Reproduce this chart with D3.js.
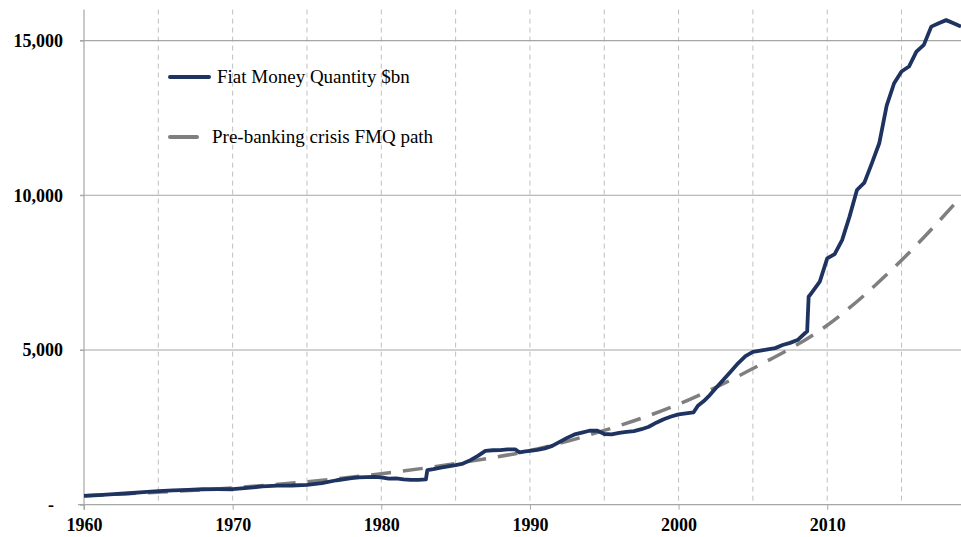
<!DOCTYPE html>
<html>
<head>
<meta charset="utf-8">
<script src="https://cdn.jsdelivr.net/npm/d3@7"></script>
<style>
  body { margin: 0; background: #fff; }
  svg { display: block; }
</style>
</head>
<body>
<svg id="svgImage" width="961" height="537"></svg>
<script>
// Fiat money quantity, $bn
var fmqYears = [1960, 1961, 1962, 1963, 1964, 1965, 1966, 1967, 1968, 1969,
  1970, 1971, 1972, 1973, 1974, 1975, 1976, 1977, 1978, 1978.5, 1979, 1979.5,
  1980, 1980.5, 1981, 1981.5, 1982, 1982.5, 1983, 1983.1, 1983.5, 1984, 1985,
  1985.5, 1986, 1986.5, 1987, 1987.5, 1988, 1988.5, 1989, 1989.3, 1989.7, 1990,
  1990.5, 1991, 1991.5, 1992, 1992.5, 1993, 1993.5, 1994, 1994.5, 1994.8, 1995,
  1995.5, 1996, 1996.5, 1997, 1997.5, 1998, 1998.5, 1999, 1999.5, 2000, 2000.5,
  2001, 2001.3, 2001.7, 2002, 2002.5, 2003, 2003.5, 2004, 2004.5, 2005, 2005.5,
  2006, 2006.5, 2007, 2007.5, 2008, 2008.5, 2008.65, 2008.75, 2009, 2009.5,
  2010, 2010.5, 2011, 2011.5, 2012, 2012.5, 2013, 2013.5, 2014, 2014.5, 2015,
  2015.5, 2016, 2016.5, 2017, 2017.5, 2018, 2018.5, 2019];
var fmqValues = [285, 310, 340, 370, 405, 440, 460, 480, 500, 505,
  500, 545, 590, 615, 620, 640, 700, 790, 860, 880, 890, 900,
  880, 840, 850, 820, 800, 805, 820, 1120, 1150, 1200, 1280,
  1330, 1440, 1580, 1740, 1760, 1765, 1790, 1790, 1690, 1720, 1740,
  1770, 1820, 1900, 2030, 2160, 2270, 2330, 2390, 2395, 2330, 2285,
  2275, 2320, 2350, 2380, 2440, 2520, 2650, 2760, 2850, 2920, 2950,
  2980, 3200, 3350, 3490, 3760, 4030, 4300, 4570, 4800, 4940, 4980,
  5020, 5060, 5160, 5230, 5320, 5540, 5600, 6720, 6880, 7210,
  7960, 8100, 8550, 9310, 10170, 10410, 11030, 11680, 12900, 13620, 14000,
  14160, 14640, 14860, 15450, 15560, 15660, 15560, 15450];

// Pre-banking crisis FMQ path
var pathYears = [1960, 1965, 1970, 1975, 1980, 1985, 1990, 1995, 2000, 2005, 2010, 2015, 2019];
var pathValues = [290, 405, 545, 740, 1000, 1330, 1750, 2400, 3250, 4400, 5800, 7900, 9950];

var seriesNames = ["Fiat Money Quantity $bn", "Pre-banking crisis FMQ path"];
var yTicks = [0, 5000, 10000, 15000];
var xTicks = [1960, 1970, 1980, 1990, 2000, 2010];
var xGrid = [1965, 1970, 1975, 1980, 1985, 1990, 1995, 2000, 2005, 2010, 2015];

var svg = d3.select("#svgImage"),
    plotLeft = 84, plotRight = 961, plotTop = 9.6, plotBottom = 504.7;

var x = d3.scaleLinear().domain([1960, 2019]).range([plotLeft, plotRight]),
    y = d3.scaleLinear().domain([0, 16000]).range([plotBottom, plotTop]);

// vertical dashed grid
svg.append("g").selectAll("line")
  .data(xGrid)
  .enter().append("line")
  .attr("x1", function(d) { return x(d); })
  .attr("x2", function(d) { return x(d); })
  .attr("y1", plotTop)
  .attr("y2", plotBottom)
  .attr("stroke", "#bfbfbf")
  .attr("stroke-width", 1)
  .attr("stroke-dasharray", "5,4");

// horizontal grid
svg.append("g").selectAll("line")
  .data(yTicks.filter(function(d) { return d > 0; }))
  .enter().append("line")
  .attr("x1", plotLeft - 4)
  .attr("x2", plotRight)
  .attr("y1", function(d) { return y(d); })
  .attr("y2", function(d) { return y(d); })
  .attr("stroke", "#a6a6a6")
  .attr("stroke-width", 1.2);

// y axis
var yAxis = svg.append("g")
  .attr("transform", "translate(" + plotLeft + ",0)")
  .call(d3.axisLeft(y).tickValues(yTicks).tickSize(4).tickPadding(20)
    .tickFormat(function(d) { return d === 0 ? "-" : d3.format(",")(d); }));
yAxis.select(".domain").attr("d", "M0," + plotTop + "V" + (plotBottom + 5)).attr("stroke", "#a6a6a6").attr("stroke-width", 1.2);
yAxis.selectAll(".tick line").attr("stroke", "#a6a6a6");
yAxis.selectAll("text")
  .attr("font-family", "'Liberation Serif', serif")
  .attr("font-weight", "bold")
  .attr("font-size", "18px")
  .attr("fill", "#000")
  .attr("x", function(d) { return d === 0 ? -30 : -21; });

// x axis
var xAxis = svg.append("g")
  .attr("transform", "translate(0," + plotBottom + ")")
  .call(d3.axisBottom(x).tickValues(xTicks).tickSize(5).tickPadding(9)
    .tickFormat(d3.format("d")));
xAxis.select(".domain").attr("d", "M" + (plotLeft - 6) + ",0H" + plotRight).attr("stroke", "#a6a6a6").attr("stroke-width", 1.2);
xAxis.selectAll(".tick line").attr("stroke", "#a6a6a6");
xAxis.selectAll("text")
  .attr("font-family", "'Liberation Serif', serif")
  .attr("font-weight", "bold")
  .attr("font-size", "18px")
  .attr("fill", "#000");

// series
var pathData = pathYears.map(function(d, i) { return [d, pathValues[i]]; }),
    fmqData = fmqYears.map(function(d, i) { return [d, fmqValues[i]]; });

svg.append("path")
  .datum(pathData)
  .attr("fill", "none")
  .attr("stroke", "#7f7f7f")
  .attr("stroke-width", 3.5)
  .attr("stroke-dasharray", "20,12")
  .attr("d", d3.line().curve(d3.curveMonotoneX)
    .x(function(d) { return x(d[0]); })
    .y(function(d) { return y(d[1]); }));

svg.append("path")
  .datum(fmqData)
  .attr("fill", "none")
  .attr("stroke", "#1f3361")
  .attr("stroke-width", 3.8)
  .attr("stroke-linejoin", "round")
  .attr("d", d3.line()
    .x(function(d) { return x(d[0]); })
    .y(function(d) { return y(d[1]); }));

// legend
var legend = svg.append("g");
legend.append("line")
  .attr("x1", 170).attr("x2", 209).attr("y1", 77).attr("y2", 77)
  .attr("stroke", "#1f3361").attr("stroke-width", 4).attr("stroke-linecap", "round");
legend.append("text")
  .attr("x", 217).attr("y", 83)
  .attr("font-family", "'Liberation Serif', serif")
  .attr("font-size", "19px")
  .text(seriesNames[0]);
legend.append("line")
  .attr("x1", 170).attr("x2", 197).attr("y1", 137).attr("y2", 137)
  .attr("stroke", "#7f7f7f").attr("stroke-width", 4).attr("stroke-linecap", "round");
legend.append("text")
  .attr("x", 212).attr("y", 143)
  .attr("font-family", "'Liberation Serif', serif")
  .attr("font-size", "19px")
  .text(seriesNames[1]);
</script>
</body>
</html>
